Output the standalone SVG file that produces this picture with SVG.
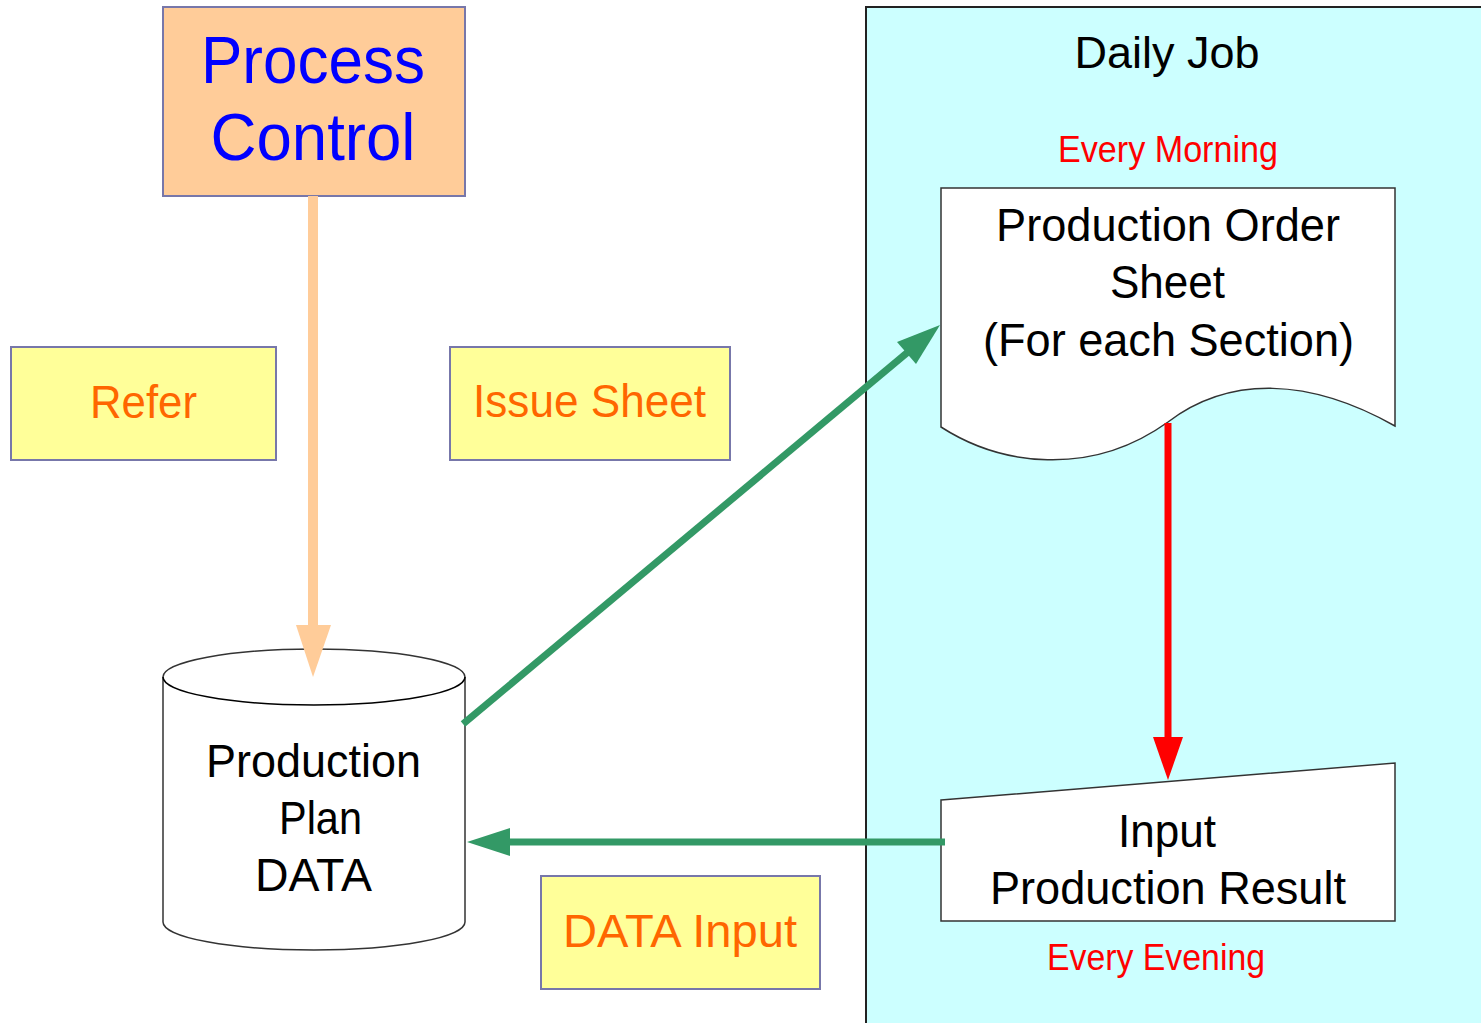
<svg xmlns="http://www.w3.org/2000/svg" width="1481" height="1023" viewBox="0 0 1481 1023">
<style>
text{font-family:"Liberation Sans",Arial,sans-serif;text-anchor:middle}
.lbl{fill:#FFFF99;stroke:#7777AA;stroke-width:2}
.lt{fill:#FF6600;font-size:47px}
.bk{fill:#000;font-size:46px}
.rd{fill:#FF0000;font-size:36px}
.shape{fill:#fff;stroke:#333;stroke-width:1.5}
</style>
<rect width="1481" height="1023" fill="#fff"/>
<g id="daily-job">
<rect x="866" y="7" width="700" height="1100" fill="#CCFFFF" stroke="#222" stroke-width="2"/>
<text x="1167" y="68" font-size="44" fill="#000" textLength="185" lengthAdjust="spacingAndGlyphs">Daily Job</text>
<text class="rd" x="1168" y="162" textLength="220" lengthAdjust="spacingAndGlyphs">Every Morning</text>
<text class="rd" x="1156" y="970" textLength="218" lengthAdjust="spacingAndGlyphs">Every Evening</text>
</g>
<g id="process-control">
<rect x="163" y="7" width="302" height="189" fill="#FFCC99" stroke="#7777AA" stroke-width="2"/>
<text x="313" y="83" font-size="66" fill="#0000FF" textLength="224" lengthAdjust="spacingAndGlyphs">Process</text>
<text x="313" y="160" font-size="66" fill="#0000FF" textLength="205" lengthAdjust="spacingAndGlyphs">Control</text>
</g>
<g id="refer">
<rect class="lbl" x="11" y="347" width="265" height="113"/>
<text class="lt" x="143.5" y="418" textLength="107" lengthAdjust="spacingAndGlyphs">Refer</text>
</g>
<g id="issue-sheet">
<rect class="lbl" x="450" y="347" width="280" height="113"/>
<text class="lt" x="589.5" y="417" textLength="233" lengthAdjust="spacingAndGlyphs">Issue Sheet</text>
</g>
<g id="data-input">
<rect class="lbl" x="541" y="876" width="279" height="113"/>
<text class="lt" x="680" y="947" textLength="234" lengthAdjust="spacingAndGlyphs">DATA Input</text>
</g>
<g id="production-plan-data">
<path class="shape" d="M163,677 V922 A151,28 0 0 0 465,922 V677 A151,28 0 0 0 163,677 Z"/>
<path d="M163,677 A151,28 0 0 0 465,677" fill="none" stroke="#000" stroke-width="1.5"/>
<text class="bk" x="313.5" y="777" textLength="215" lengthAdjust="spacingAndGlyphs">Production</text>
<text class="bk" x="320.5" y="834" textLength="83" lengthAdjust="spacingAndGlyphs">Plan</text>
<text class="bk" x="313.5" y="891" textLength="117" lengthAdjust="spacingAndGlyphs">DATA</text>
</g>
<g id="production-order-sheet">
<path class="shape" d="M941,188 H1395 V426 C1310,378 1230,375 1168,422 C1090,478 1000,465 941,427 Z"/>
<text class="bk" x="1168" y="241" textLength="344" lengthAdjust="spacingAndGlyphs">Production Order</text>
<text class="bk" x="1167.5" y="298" textLength="115" lengthAdjust="spacingAndGlyphs">Sheet</text>
<text class="bk" x="1168.5" y="356" textLength="371" lengthAdjust="spacingAndGlyphs">(For each Section)</text>
</g>
<g id="input-production-result">
<path class="shape" d="M941,800 L1395,763 V921 H941 Z"/>
<text class="bk" x="1167" y="847" textLength="98" lengthAdjust="spacingAndGlyphs">Input</text>
<text class="bk" x="1168" y="904" textLength="356" lengthAdjust="spacingAndGlyphs">Production Result</text>
</g>
<g id="connectors">
<line x1="313" y1="196" x2="313" y2="630" stroke="#FFCC99" stroke-width="10"/>
<polygon points="296,625 331,625 313,677" fill="#FFCC99"/>
<line x1="463" y1="724" x2="908" y2="352" stroke="#339966" stroke-width="7"/>
<polygon points="940,325 916,364 897,342" fill="#339966"/>
<line x1="945" y1="842" x2="505" y2="842" stroke="#339966" stroke-width="7"/>
<polygon points="467,842 510,828 510,856" fill="#339966"/>
<line x1="1168" y1="423" x2="1168" y2="742" stroke="#FF0000" stroke-width="7"/>
<polygon points="1153,737 1183,737 1168,780" fill="#FF0000"/>
</g>
</svg>
